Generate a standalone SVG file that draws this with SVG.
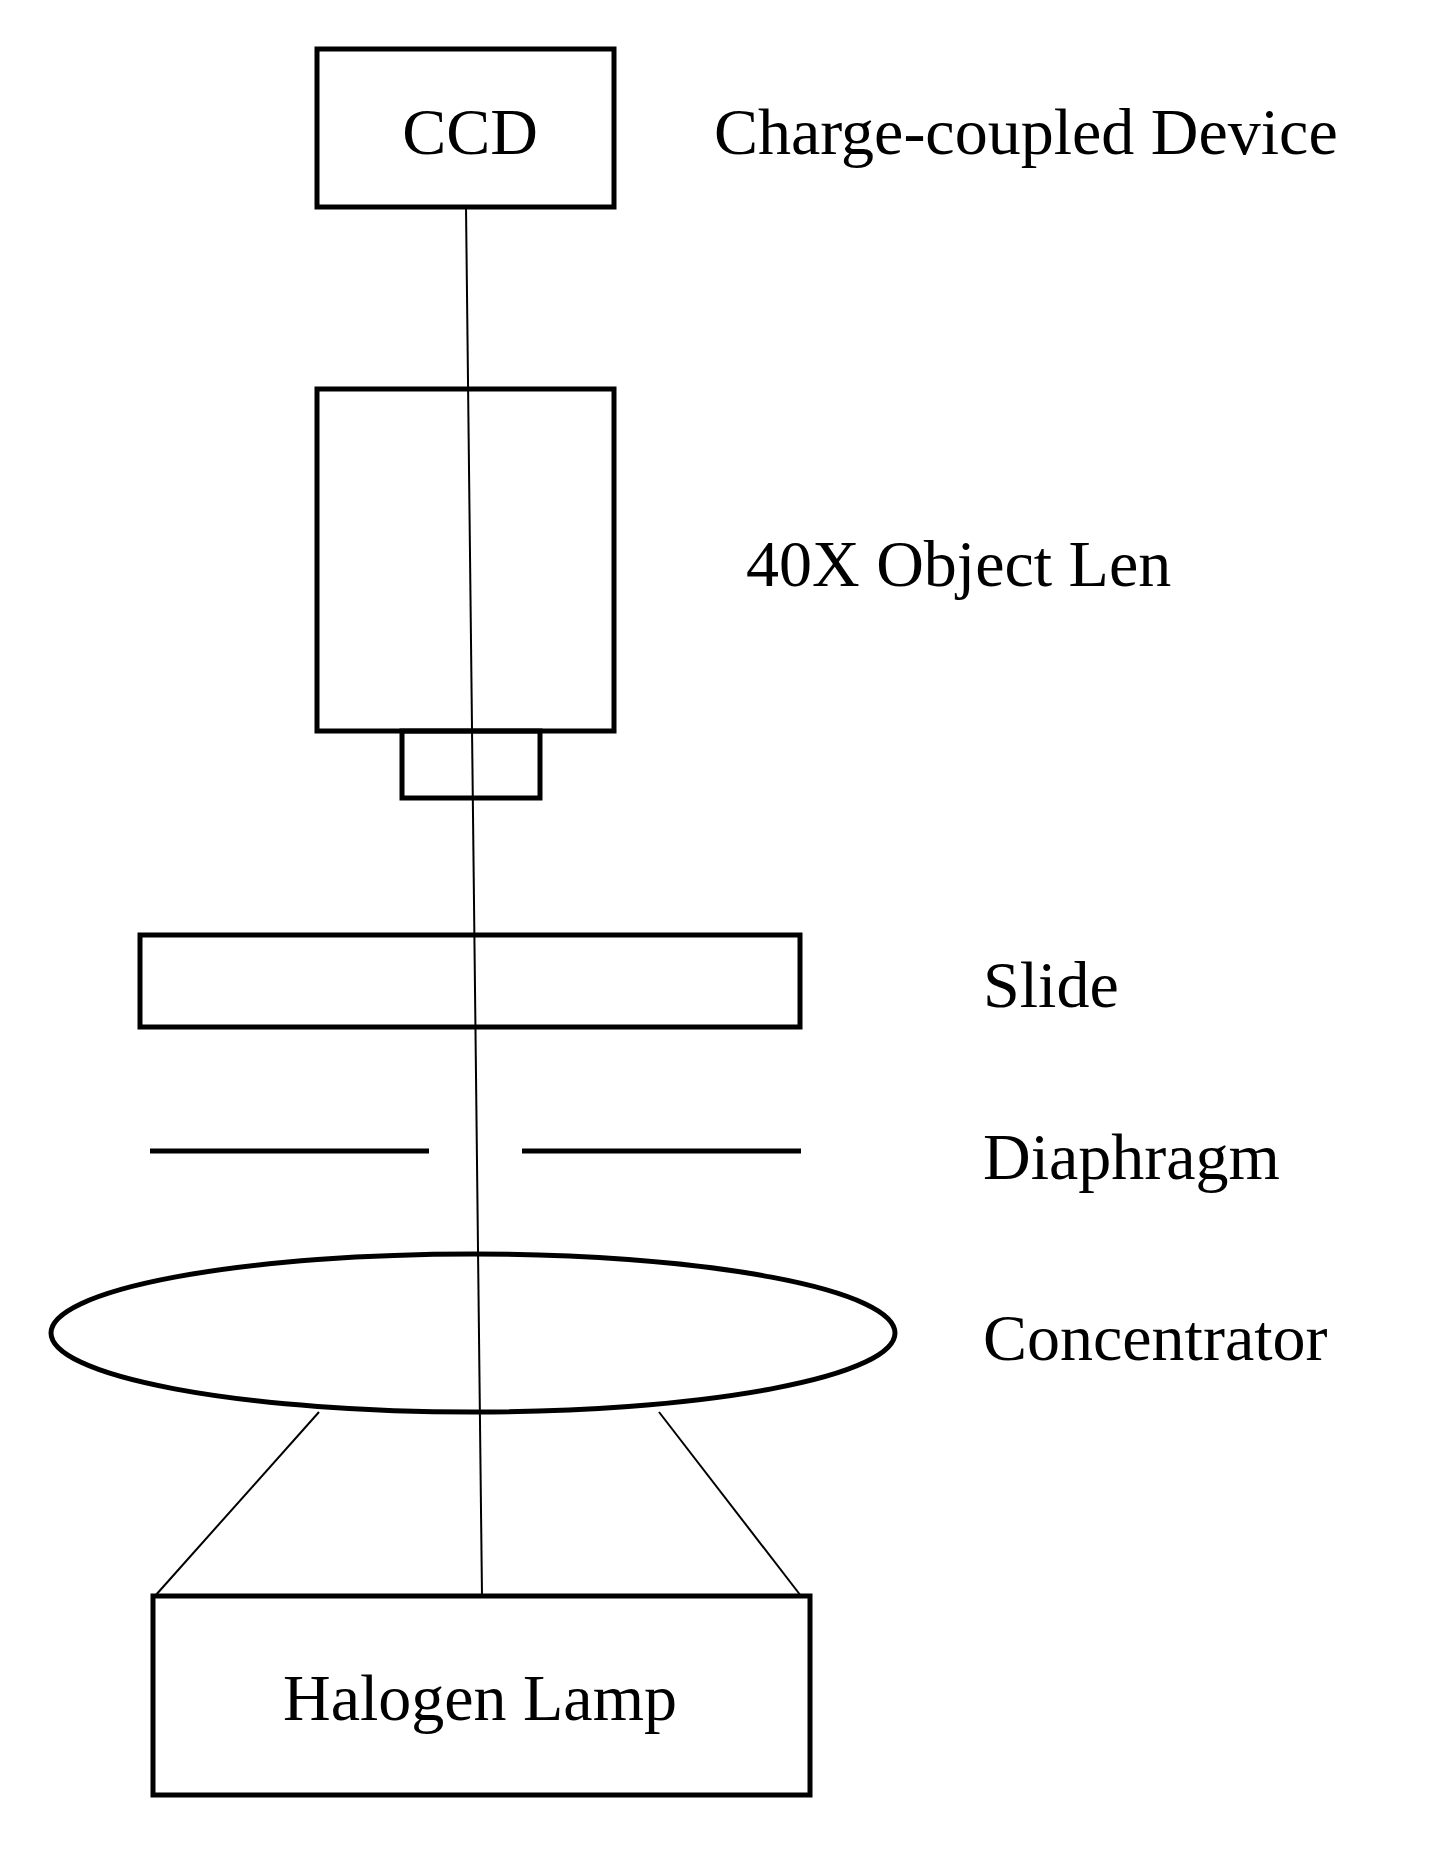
<svg xmlns="http://www.w3.org/2000/svg" width="1444" height="1861" viewBox="0 0 1444 1861">
<style>
.box{fill:none;stroke:#000;stroke-width:5}
.thin{fill:none;stroke:#000;stroke-width:2}
text{font-family:"Liberation Serif","Times New Roman",serif;font-size:66px;fill:#000}
</style>
<rect width="1444" height="1861" fill="#fff"/>
<g id="ccd"><rect class="box" x="317" y="49" width="297" height="158"/><text x="470" y="154" text-anchor="middle">CCD</text></g>
<g id="objective"><rect class="box" x="317" y="389" width="297" height="342"/><rect class="box" x="402" y="731" width="138" height="67"/></g>
<g id="slide"><rect class="box" x="140" y="935" width="660" height="92"/></g>
<g id="diaphragm"><line class="box" x1="150" y1="1151" x2="429" y2="1151" stroke-width="4"/><line class="box" x1="522" y1="1151" x2="801" y2="1151" stroke-width="4"/></g>
<g id="concentrator"><ellipse class="box" cx="473" cy="1333" rx="422" ry="79"/></g>
<g id="lamp"><rect class="box" x="153" y="1596" width="657" height="199"/><text x="480" y="1720" text-anchor="middle">Halogen Lamp</text></g>
<g id="labels">
<text x="714" y="154">Charge-coupled Device</text>
<text x="746" y="586">40X Object Len</text>
<text x="983" y="1007">Slide</text>
<text x="983" y="1179">Diaphragm</text>
<text x="983" y="1360">Concentrator</text>
</g>
<g id="connectors">
<line class="thin" x1="466" y1="207" x2="482" y2="1596"/>
<line class="thin" x1="319" y1="1412" x2="155" y2="1596"/>
<line class="thin" x1="659" y1="1412" x2="801" y2="1596"/>
</g>
</svg>
